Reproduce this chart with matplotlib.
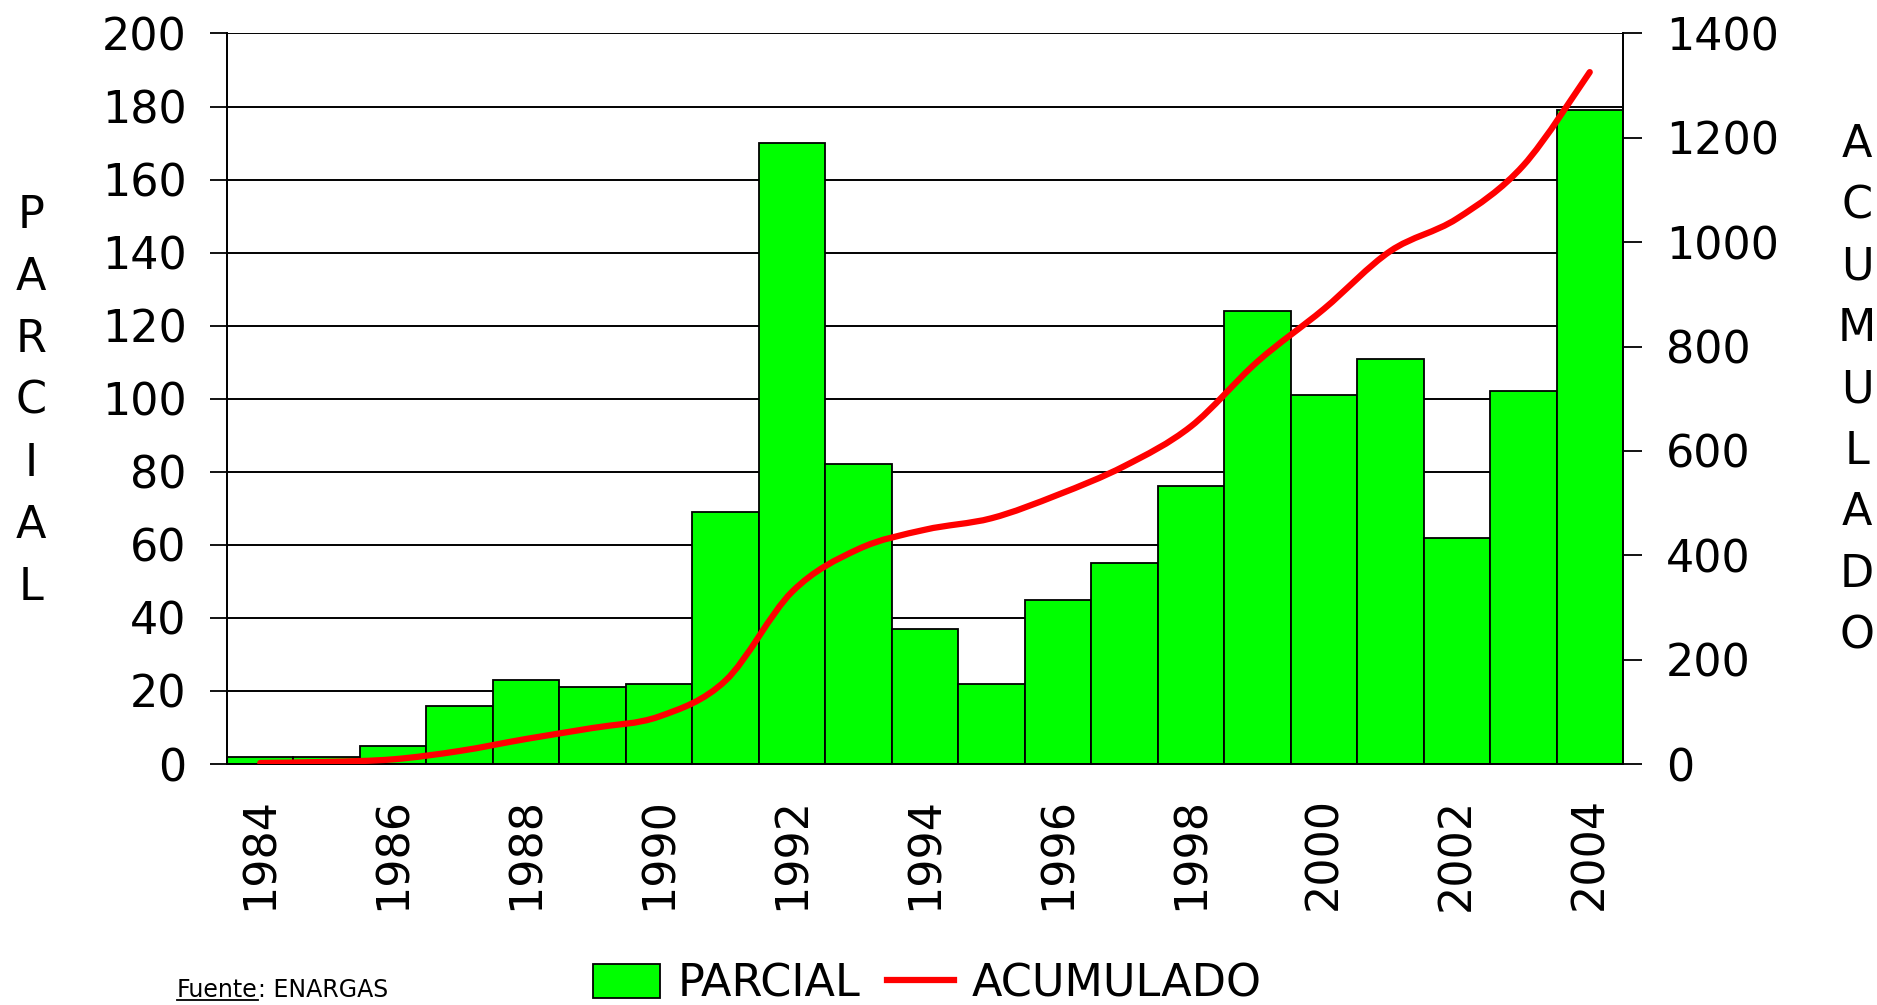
import matplotlib
matplotlib.use("Agg")
import matplotlib.pyplot as plt
from matplotlib.path import Path
from matplotlib.patches import PathPatch
from matplotlib.lines import Line2D
import numpy as np

years = [1984, 1985, 1986, 1987, 1988, 1989, 1990, 1991, 1992, 1993, 1994,
         1995, 1996, 1997, 1998, 1999, 2000, 2001, 2002, 2003, 2004]
parcial = [2, 2, 5, 16, 23, 21, 22, 69, 170, 82, 37,
           22, 45, 55, 76, 124, 101, 111, 62, 102, 179]
acumulado = [2, 4, 9, 25, 48, 69, 91, 160, 330, 412, 449,
             471, 516, 571, 647, 771, 872, 983, 1045, 1147, 1326]
left_ticks = [0, 20, 40, 60, 80, 100, 120, 140, 160, 180, 200]
right_ticks = [0, 200, 400, 600, 800, 1000, 1200, 1400]

plt.rcParams['font.family'] = ['DejaVu Sans']
FS = 32

W, H = 1877, 1005
fig = plt.figure(figsize=(W / 100, H / 100), dpi=100)
ax = fig.add_axes([227 / W, 1 - 764 / H, (1623 - 227) / W, (764 - 33.5) / H])
ax2 = ax.twinx()

idx = np.arange(len(years))
bars = ax.bar(idx, parcial, width=1.0, color='#00FF00', edgecolor='black',
              linewidth=1.3, zorder=2)
ax.set_xlim(-0.5, len(years) - 0.5)
ax.set_ylim(0, 200)
ax.set_yticks(left_ticks)
ax.set_yticklabels([str(v) for v in left_ticks], fontsize=FS)
ax.set_axisbelow(True)
ax.grid(axis='y', color='black', linewidth=1.4, zorder=0)
ax.set_xticks(idx[::2])
ax.set_xticklabels([str(y) for y in years[::2]], rotation=90, fontsize=FS)
ax.tick_params(axis='x', length=0, pad=24)
ax.tick_params(axis='y', direction='out', length=12, width=1.3, pad=17)
ax.spines['top'].set_visible(False)
ax2.spines['top'].set_visible(False)
for s in ['left', 'bottom', 'right']:
    ax.spines[s].set_linewidth(1.3)
    ax2.spines[s].set_linewidth(1.3)

ax2.set_ylim(0, 1400)
ax2.set_yticks(right_ticks)
ax2.set_yticklabels([str(v) for v in right_ticks], fontsize=FS)
ax2.tick_params(axis='y', direction='out', length=14, width=1.3, pad=17)

# smoothed cumulative line (Catmull-Rom style Bezier through the data points)
xs = idx.astype(float)
ys = np.array(acumulado, dtype=float)
n = len(xs)
verts = [(xs[0], ys[0])]
codes = [Path.MOVETO]
for i in range(n - 1):
    im1 = max(i - 1, 0)
    ip2 = min(i + 2, n - 1)
    c1 = (xs[i] + (xs[i + 1] - xs[im1]) / 6, ys[i] + (ys[i + 1] - ys[im1]) / 6)
    c2 = (xs[i + 1] - (xs[ip2] - xs[i]) / 6, ys[i + 1] - (ys[ip2] - ys[i]) / 6)
    verts += [c1, c2, (xs[i + 1], ys[i + 1])]
    codes += [Path.CURVE4, Path.CURVE4, Path.CURVE4]
path = Path(verts, codes)
ax2.add_patch(PathPatch(path, facecolor='none', edgecolor='#FF0000',
                        linewidth=4.5, capstyle='round', joinstyle='round', zorder=3))

# vertical axis titles
for i, ch in enumerate("PARCIAL"):
    fig.text(31 / W, 1 - (401 + (i - 3) * 62) / H, ch, fontsize=FS,
             ha='center', va='center')
for i, ch in enumerate("ACUMULADO"):
    fig.text(1857 / W, 1 - (390 + (i - 4) * 61.4) / H, ch, fontsize=FS,
             ha='center', va='center')

# legend
line_proxy = Line2D([0], [0], color='#FF0000', linewidth=4.5)
fig.legend([bars, line_proxy], ['PARCIAL', 'ACUMULADO'], ncol=2,
           loc='center', bbox_to_anchor=(0.494, 0.021), frameon=False,
           fontsize=FS, handlelength=1.5, handleheight=0.8,
           handletextpad=0.4, columnspacing=0.6, borderaxespad=0, borderpad=0)

# source note with underlined "Fuente"
y0 = 1 - 997 / H
t1 = fig.text(177 / W, y0, "Fuente", fontsize=17, va='baseline', ha='left')
fig.canvas.draw()
bb = t1.get_window_extent(renderer=fig.canvas.get_renderer())
fig.text(bb.x1 / W, y0, ": ENARGAS", fontsize=17, va='baseline', ha='left')
fig.add_artist(Line2D([bb.x0 / W, bb.x1 / W], [y0 - 3 / H, y0 - 3 / H],
                      transform=fig.transFigure, color='black', linewidth=1.3))

fig.savefig("out.png", dpi=100)
